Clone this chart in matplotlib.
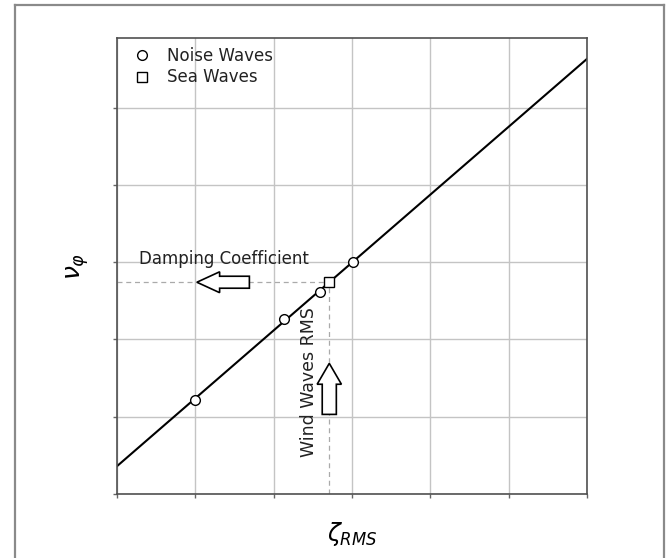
import matplotlib
matplotlib.use("Agg")
import matplotlib.pyplot as plt
from matplotlib.patches import FancyArrow
from matplotlib.lines import Line2D

# ---- data ----
fit_x = [0.0, 6.0]
fit_y = [0.36, 5.63]
noise_x = [1.00, 2.13, 2.59, 3.01]
noise_y = [1.21, 2.27, 2.61, 3.00]
sea_x = [2.71]
sea_y = [2.74]
x_ticks = [0, 1, 2, 3, 4, 5, 6]
y_ticks = [0, 1, 2, 3, 4, 5]

fig = plt.figure(figsize=(6.69, 5.58), dpi=100)
ax = fig.add_axes([117/669, 1 - 494/558, 470/669, 456/558])

ax.set_xlim(0, 6)
ax.set_ylim(0, 5.9)
ax.set_xticks(x_ticks)
ax.set_yticks(y_ticks)
ax.set_xticklabels([])
ax.set_yticklabels([])
ax.grid(True, color='#c4c4c4', lw=1.0, zorder=0)
ax.set_axisbelow(True)
ax.tick_params(direction='out', length=3, width=1.0, color='#666666')
for s in ax.spines.values():
    s.set_color('#505050')
    s.set_linewidth(1.2)

# reference dashed lines to the sea point
ax.plot([0, sea_x[0]], [sea_y[0], sea_y[0]], ls=(0, (4, 3)), color='#aaaaaa', lw=0.9, zorder=1)
ax.plot([sea_x[0], sea_x[0]], [0, sea_y[0]], ls=(0, (4, 3)), color='#aaaaaa', lw=0.9, zorder=1)

ax.plot(fit_x, fit_y, color='black', lw=1.5, zorder=2)
ax.plot(noise_x, noise_y, ls='none', marker='o', ms=7, mfc='white', mec='black', mew=1.0,
        zorder=3, label='Noise Waves')
ax.plot(sea_x, sea_y, ls='none', marker='s', ms=6.5, mfc='white', mec='black', mew=1.0,
        zorder=3, label='Sea Waves')

# arrows
ax.add_patch(FancyArrow(1.69, sea_y[0], -0.67, 0, width=0.155, head_width=0.27,
                        head_length=0.29, length_includes_head=True,
                        fc='white', ec='black', lw=1.2, zorder=4))
ax.add_patch(FancyArrow(sea_x[0], 1.03, 0, 0.66, width=0.18, head_width=0.31,
                        head_length=0.27, length_includes_head=True,
                        fc='white', ec='black', lw=1.2, zorder=4))

ax.text(0.28, 3.04, 'Damping Coefficient', fontsize=12, ha='left', va='center',
        color='#222222', zorder=5)
ax.text(2.45, 1.45, 'Wind Waves RMS', fontsize=12.5, ha='center', va='center',
        rotation=90, color='#222222', zorder=5)

leg = ax.legend(loc='upper left', frameon=False, fontsize=12, borderaxespad=0.15,
                handlelength=1.9, handletextpad=0.55, labelspacing=0.2)
for t in leg.get_texts():
    t.set_color('#222222')

ax.set_ylabel(r'$\nu_\varphi$', fontsize=18, labelpad=12.5)
ax.set_xlabel(r'$\zeta_{RMS}$', fontsize=17, labelpad=12)

# outer frame (open at the bottom)
fc = '#8a8a8a'
fig.add_artist(Line2D([15/669, 15/669], [0, 1 - 5/558], transform=fig.transFigure, color=fc, lw=1.6))
fig.add_artist(Line2D([664/669, 664/669], [0, 1 - 5/558], transform=fig.transFigure, color=fc, lw=1.6))
fig.add_artist(Line2D([15/669, 664/669], [1 - 5/558, 1 - 5/558], transform=fig.transFigure, color=fc, lw=1.6))

fig.savefig('out.png', dpi=100)
